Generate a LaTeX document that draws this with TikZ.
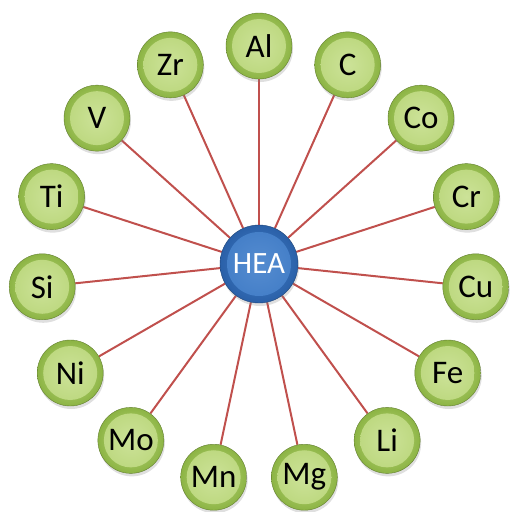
\documentclass[tikz,border=0pt]{standalone}
\usepackage{fontspec}
\setmainfont{Carlito}
\usetikzlibrary{shadows,backgrounds}
\definecolor{linered}{HTML}{C0504D}
\definecolor{gdark}{HTML}{8CB444}
\definecolor{glight}{HTML}{C3DD86}
\definecolor{bdark}{HTML}{2A60A8}
\definecolor{blight}{HTML}{4682CC}
\tikzset{
  elem/.style={circle, minimum size=66pt, inner sep=0pt,
    font=\fontsize{33}{35}\selectfont, text=black,
    draw=gdark!70!black, line width=0.4pt,
    shading=radial, inner color=glight, outer color=gdark,
    path picture={\shade[inner color=glight!85!white, outer color=glight!85!gdark]
      (path picture bounding box.center) circle (27pt);},
    drop shadow={opacity=0.25, shadow xshift=1pt, shadow yshift=-3pt}},
  core/.style={circle, minimum size=78pt, inner sep=0pt,
    font=\fontsize{31}{33}\selectfont, text=white,
    draw=bdark!70!black, line width=0.4pt,
    shading=radial, inner color=blight, outer color=bdark,
    path picture={\shade[inner color=blight!92!white, outer color=blight!85!bdark]
      (path picture bounding box.center) circle (32pt);},
    drop shadow={opacity=0.25, shadow xshift=1pt, shadow yshift=-3pt}},
  spoke/.style={draw=linered, line width=2pt}
}
\begin{document}
\begin{tikzpicture}[x=1pt,y=1pt]
\useasboundingbox (0,0) rectangle (510,-512);
\node[core] (hea) at (259,-264) {HEA};
\foreach \lab [count=\k from 0] in {Al,C,Co,Cr,Cu,Fe,Li,Mg,Mn,Mo,Ni,Si,Ti,V,Zr} {
  \node[elem] (n\k) at ([shift={({90-24*\k}:218)}]259,-264) {\lab};
}
\begin{scope}[on background layer]
  \foreach \k in {0,...,14} { \draw[spoke] (hea) -- (n\k); }
\end{scope}
\end{tikzpicture}
\end{document}
